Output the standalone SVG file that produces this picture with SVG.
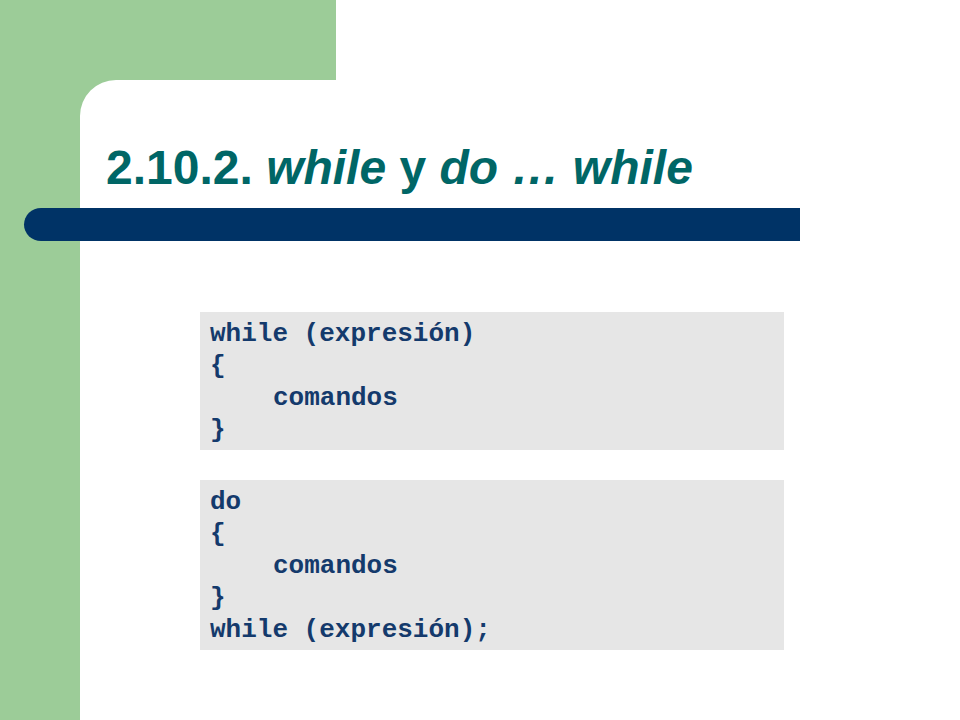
<svg xmlns="http://www.w3.org/2000/svg" width="960" height="720" viewBox="0 0 960 720">
<style>
.green{fill:#9ccc98}
.bar{fill:#003366}
.box{fill:#e6e6e6}
.title{font-family:"Liberation Sans",Arial,sans-serif;font-size:48px;font-weight:bold;fill:#006666}
.it{font-style:italic}
.code{font-family:"Liberation Mono","Courier New",monospace;font-size:26px;font-weight:bold;fill:#143a6c;white-space:pre}
</style>
<rect width="960" height="720" fill="#ffffff"/>
<g id="background">
<rect class="green" x="0" y="0" width="336" height="80"/>
<rect class="green" x="0" y="0" width="80" height="720"/>
<path class="green" d="M80,80 H116 A36,36 0 0 0 80,116 Z"/>
<path class="bar" d="M41,208 H800 V241 H41 A17,16.5 0 0 1 41,208 Z"/>
</g>
<g id="title">
<text class="title" x="106" y="184" xml:space="preserve">2.10.2. <tspan class="it">while</tspan> y <tspan class="it">do … while</tspan></text>
</g>
<g id="while-box">
<rect class="box" x="200" y="312" width="584" height="138"/>
<text class="code" x="210" y="341" xml:space="preserve">while (expresión)</text>
<text class="code" x="210" y="373">{</text>
<text class="code" x="273" y="405">comandos</text>
<text class="code" x="210" y="437">}</text>
</g>
<g id="do-while-box">
<rect class="box" x="200" y="480" width="584" height="170"/>
<text class="code" x="210" y="509">do</text>
<text class="code" x="210" y="541">{</text>
<text class="code" x="273" y="573">comandos</text>
<text class="code" x="210" y="605">}</text>
<text class="code" x="210" y="637" xml:space="preserve">while (expresión);</text>
</g>
<g id="connectors"/>
</svg>
